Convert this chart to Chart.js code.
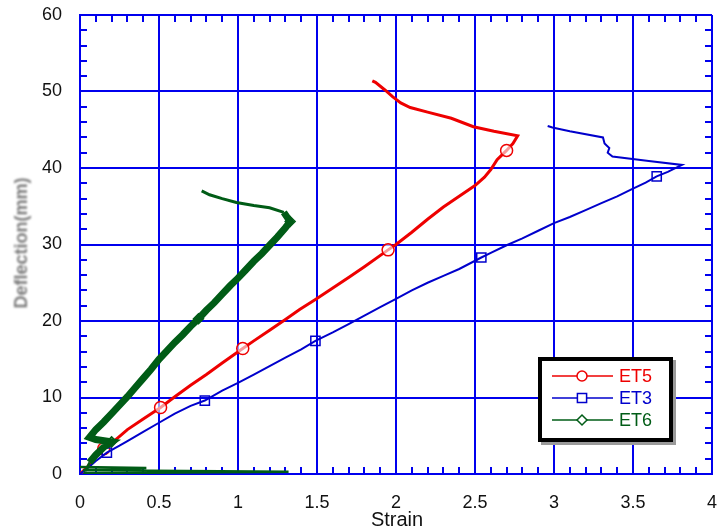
<!DOCTYPE html>
<html>
<head>
<meta charset="utf-8">
<script src="https://cdn.jsdelivr.net/npm/chart.js@4"></script>
<style>
  body { margin: 0; background: #fff; }
  canvas { display: block; }
</style>
</head>
<body>
<canvas id="chart" width="717" height="531"></canvas>
<script>
// Strain vs deflection for three test beams

const xTicks = [0, 0.5, 1, 1.5, 2, 2.5, 3, 3.5, 4];
const yTicks = [0, 10, 20, 30, 40, 50, 60];

const et5Strain = [0, 0.05, 0.1, 0.15, 0.21, 0.3, 0.4, 0.51, 0.6, 0.7, 0.8, 0.9, 1.03, 1.1, 1.2, 1.3, 1.39, 1.49, 1.6, 1.7, 1.8, 1.95, 2.0, 2.1, 2.2, 2.3, 2.4, 2.5, 2.56, 2.6, 2.64, 2.7, 2.74, 2.77, 2.62, 2.49, 2.35, 2.2, 2.09, 2.03, 1.98, 1.93, 1.87, 1.85];
const et5Defl   = [0, 1.0, 2.2, 3.3, 4.2, 5.8, 7.2, 8.7, 10.1, 11.6, 13.0, 14.5, 16.4, 17.4, 18.8, 20.2, 21.5, 22.8, 24.3, 25.7, 27.1, 29.3, 30.0, 31.6, 33.3, 34.9, 36.3, 37.7, 38.8, 39.8, 41.1, 42.3, 43.2, 44.2, 44.8, 45.4, 46.5, 47.3, 47.9, 48.5, 49.3, 50.2, 51.2, 51.4];
const et5Marks  = [3, 7, 12, 21, 31];

const et3Strain = [0, 0.05, 0.1, 0.17, 0.25, 0.3, 0.4, 0.5, 0.6, 0.7, 0.79, 0.9, 1.0, 1.1, 1.2, 1.3, 1.4, 1.49, 1.6, 1.7, 1.8, 1.9, 2.0, 2.1, 2.2, 2.3, 2.4, 2.54, 2.6, 2.7, 2.8, 2.9, 3.0, 3.1, 3.2, 3.3, 3.4, 3.49, 3.58, 3.65, 3.72, 3.81, 3.6, 3.37, 3.34, 3.35, 3.32, 3.31, 3.1, 2.99, 2.96];
const et3Defl   = [0, 0.8, 1.7, 2.8, 3.7, 4.3, 5.5, 6.7, 7.9, 8.9, 9.6, 10.9, 11.9, 13.0, 14.1, 15.2, 16.3, 17.4, 18.5, 19.6, 20.7, 21.8, 22.9, 24.0, 25.0, 25.9, 26.8, 28.3, 28.9, 29.9, 30.8, 31.8, 32.8, 33.6, 34.5, 35.4, 36.3, 37.2, 38.1, 38.9, 39.5, 40.4, 40.9, 41.5, 42.0, 42.6, 43.2, 44.0, 44.8, 45.3, 45.5];
const et3Marks  = [3, 10, 17, 27, 39];

const et6Strain = [0, 0.42, 0.02, 1.32, 0.03, 0.06, 0.1, 0.15, 0.2, 0.1, 0.06, 0.1, 0.15, 0.2, 0.25, 0.3, 0.35, 0.4, 0.45, 0.5, 0.55, 0.6, 0.65, 0.7, 0.75, 0.8, 0.85, 0.9, 0.95, 1.0, 1.05, 1.1, 1.15, 1.2, 1.25, 1.3, 1.33, 1.29, 1.2, 1.1, 0.99, 0.9, 0.82, 0.77];
const et6Defl   = [0.9, 0.8, 0.5, 0.3, 0.1, 1.5, 2.5, 3.5, 4.2, 4.5, 4.8, 5.8, 6.8, 7.9, 9.0, 10.1, 11.3, 12.5, 13.7, 15.0, 16.1, 17.2, 18.2, 19.3, 20.3, 21.4, 22.4, 23.5, 24.6, 25.6, 26.7, 27.8, 28.8, 29.9, 31.0, 32.2, 33.0, 34.2, 34.8, 35.1, 35.5, 36.0, 36.5, 37.0];
const et6Marks  = [8, 24, 36];

const seriesNames = ['ET5', 'ET3', 'ET6'];

const AXIS_BLUE = '#0000ee';
const RED = '#ee0000';
const BLUE = '#0000cc';
const GREEN = '#005c16';
const FONT = '"Liberation Sans", Arial, sans-serif';

function toPoints(xs, ys) {
    return xs.map((x, i) => ({ x: x, y: ys[i] }));
}

function markerRadius(marks, r) {
    return ctx => marks.includes(ctx.dataIndex) ? r : 0;
}

// Inward minor ticks on all four sides, plus axis titles
const frameExtras = {
    id: 'frameExtras',
    beforeDatasetsDraw(chart) {
        const { ctx, chartArea: a, scales } = chart;
        const len = 7;
        ctx.save();
        ctx.strokeStyle = AXIS_BLUE;
        ctx.lineWidth = 2;
        ctx.beginPath();
        for (let i = 1; i < 40; i++) {
            if (i % 5 === 0) continue;
            const px = Math.round(scales.x.getPixelForValue(i / 10));
            ctx.moveTo(px, a.bottom); ctx.lineTo(px, a.bottom - len);
            ctx.moveTo(px, a.top); ctx.lineTo(px, a.top + len);
        }
        for (let v = 2; v < 60; v += 2) {
            if (v % 10 === 0) continue;
            const py = Math.round(scales.y.getPixelForValue(v));
            ctx.moveTo(a.left, py); ctx.lineTo(a.left + len, py);
            ctx.moveTo(a.right, py); ctx.lineTo(a.right - len, py);
        }
        ctx.stroke();
        ctx.restore();
    },
    afterDraw(chart) {
        const { ctx } = chart;
        ctx.save();
        ctx.fillStyle = '#111';
        ctx.font = '20px ' + FONT;
        ctx.textAlign = 'center';
        ctx.textBaseline = 'top';
        ctx.fillText('Strain', 397, 510);

        ctx.translate(22, 243);
        ctx.rotate(-Math.PI / 2);
        ctx.filter = 'blur(0.8px)';
        ctx.fillStyle = '#7a7a7a';
        ctx.font = 'bold 18px ' + FONT;
        ctx.textBaseline = 'middle';
        ctx.fillText('Deflection(mm)', 0, 0);
        ctx.restore();
    }
};

// Boxed legend in the lower right
const boxLegend = {
    id: 'boxLegend',
    afterDraw(chart) {
        const { ctx } = chart;
        const x0 = 538, y0 = 357, w = 135, h = 85;
        ctx.save();
        ctx.fillStyle = '#9a9a9a';
        ctx.fillRect(x0 + 3, y0 + 3, w, h);
        ctx.fillStyle = '#fff';
        ctx.fillRect(x0, y0, w, h);
        ctx.strokeStyle = '#000';
        ctx.lineWidth = 4;
        ctx.strokeRect(x0 + 2, y0 + 2, w - 4, h - 4);

        const colors = [RED, BLUE, GREEN];
        const styles = ['circle', 'rect', 'rectRot'];
        const radii = [5, 6.5, 5];
        ctx.font = '18px ' + FONT;
        ctx.textBaseline = 'middle';
        for (let i = 0; i < 3; i++) {
            const y = 376 + i * 22;
            ctx.strokeStyle = colors[i];
            ctx.lineWidth = 1.5;
            ctx.beginPath();
            ctx.moveTo(552, y); ctx.lineTo(613, y);
            ctx.stroke();
            ctx.fillStyle = '#fff';
            Chart.helpers.drawPoint(ctx, { pointStyle: styles[i], radius: radii[i], borderWidth: 1.5 }, 582, y);
            ctx.fillStyle = colors[i];
            ctx.fillText(seriesNames[i], 619, y + 1);
        }
        ctx.restore();
    }
};

function seriesDataset(label, xs, ys, marks, color, width, style, r, fill) {
    return {
        label: label,
        data: toPoints(xs, ys),
        showLine: true,
        borderColor: color,
        borderWidth: width,
        borderJoinStyle: 'miter',
        backgroundColor: fill,
        pointStyle: style,
        pointRadius: markerRadius(marks, r),
        pointBorderWidth: 1.5,
        pointBorderColor: color,
        pointBackgroundColor: fill,
        tension: 0
    };
}

// Edge labels must not pull the plot area inward
function fixedScale(size, key) {
    return s => {
        s[key] = size;
        s.paddingTop = 0; s.paddingBottom = 0;
        s.paddingLeft = 0; s.paddingRight = 0;
    };
}

const et6 = seriesDataset('ET6', et6Strain, et6Defl, et6Marks, GREEN, 7, 'rectRot', 5, 'rgba(255,255,255,0)');
// thin return strokes at the base and on the unloading branch
et6.segment = {
    borderWidth: c => (c.p0DataIndex < 5 ? 2.5 : c.p0DataIndex >= 37 ? 3 : undefined)
};

new Chart(document.getElementById('chart'), {
    type: 'scatter',
    data: {
        datasets: [
            et6,
            seriesDataset('ET3', et3Strain, et3Defl, et3Marks, BLUE, 2, 'rect', 6.5, 'rgba(255,255,255,0)'),
            seriesDataset('ET5', et5Strain, et5Defl, et5Marks, RED, 3, 'circle', 6, 'rgba(255,255,255,0.6)')
        ]
    },
    options: {
        responsive: false,
        devicePixelRatio: 1,
        animation: false,
        layout: { padding: { top: 15, right: 5, left: 0, bottom: 0 } },
        plugins: { legend: { display: false }, tooltip: { enabled: false } },
        scales: {
            x: {
                type: 'linear',
                min: 0, max: 4,
                afterBuildTicks: s => { s.ticks = xTicks.map(v => ({ value: v })); },
                afterFit: fixedScale(57, 'height'),
                grid: { color: AXIS_BLUE, lineWidth: 2, drawTicks: false },
                border: { color: AXIS_BLUE, width: 2 },
                ticks: {
                    padding: 18,
                    color: '#111',
                    font: { family: FONT, size: 18 },
                    maxRotation: 0,
                    callback: v => String(v)
                }
            },
            y: {
                type: 'linear',
                min: 0, max: 60,
                afterBuildTicks: s => { s.ticks = yTicks.map(v => ({ value: v })); },
                afterFit: fixedScale(80, 'width'),
                grid: { color: AXIS_BLUE, lineWidth: 2, drawTicks: false },
                border: { color: AXIS_BLUE, width: 2 },
                ticks: {
                    padding: 18,
                    color: '#111',
                    font: { family: FONT, size: 18 },
                    callback: v => String(v)
                }
            }
        }
    },
    plugins: [frameExtras, boxLegend]
});
</script>
</body>
</html>
